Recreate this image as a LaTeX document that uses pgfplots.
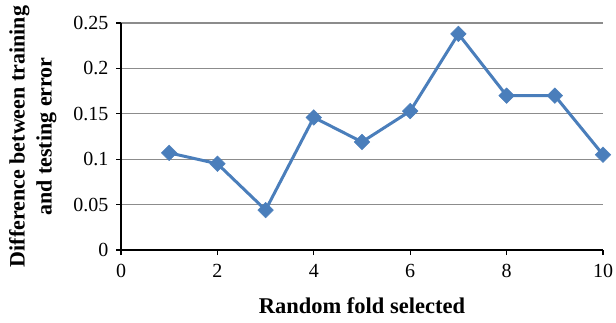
\documentclass[border=0pt]{standalone}
\usepackage{fontspec}
\setmainfont{Liberation Serif}
\usepackage{pgfplots}
\pgfplotsset{compat=1.18}
\definecolor{exblue}{HTML}{4A7EBB}
\definecolor{gridgray}{HTML}{8C8C8C}
\begin{document}
\begin{tikzpicture}
\useasboundingbox (0,0) rectangle (616pt,322pt);
\begin{axis}[
  at={(121pt,72pt)}, anchor=south west,
  scale only axis, width=482pt, height=227pt,
  xmin=0, xmax=10, ymin=0, ymax=0.25,
  xtick={0,2,4,6,8,10},
  ytick={0,0.05,0.1,0.15,0.2,0.25},
  yticklabels={0,0.05,0.1,0.15,0.2,0.25},
  axis lines=left,
  axis line style={-, black, line width=1.3pt},
  tick style={black, line width=1.3pt},
  tick align=outside,
  major tick length=5pt,
  ymajorgrids,
  grid style={gridgray, line width=1.3pt},
  font=\fontsize{20}{22}\selectfont,
  tick label style={font=\fontsize{20}{22}\selectfont},
  /pgf/number format/assume math mode=true,
  xticklabel style={yshift=-6pt},
  yticklabel style={xshift=-4pt},
  xlabel={\textbf{Random fold selected}},
  xlabel style={font=\fontsize{22.5}{24}\selectfont\bfseries, yshift=-13pt},
  ylabel={Difference between training\\and testing error},
  ylabel style={align=center, font=\fontsize{22}{27}\selectfont\bfseries, yshift=10pt},
  clip=false,
]
\addplot[exblue, line width=3pt, mark=square*, mark size=5.5pt,
  mark options={fill=exblue, draw=exblue, line width=0.5pt, rotate=45}]
coordinates {
(1,0.107) (2,0.095) (3,0.044) (4,0.146) (5,0.119)
(6,0.153) (7,0.238) (8,0.170) (9,0.170) (10,0.105)
};
\end{axis}
\end{tikzpicture}
\end{document}
